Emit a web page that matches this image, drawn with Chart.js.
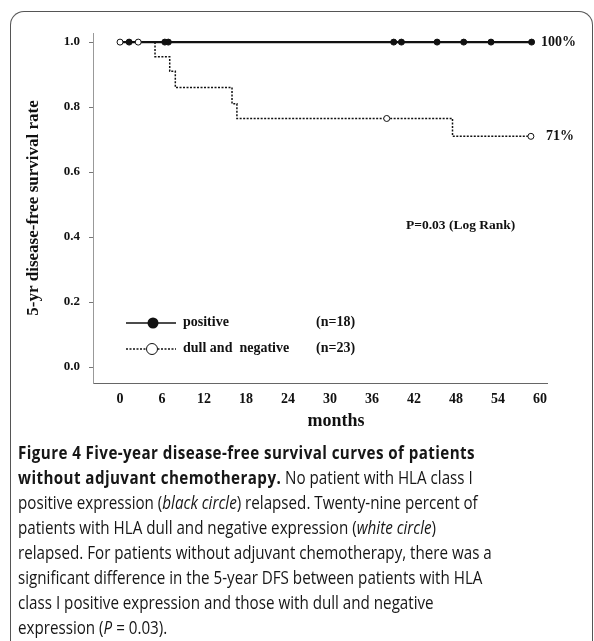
<!DOCTYPE html>
<html>
<head>
<meta charset="utf-8">
<script src="https://cdn.jsdelivr.net/npm/chart.js@4.4.0/dist/chart.umd.min.js"></script>
<style>
  body { margin: 0; width: 594px; height: 641px; background: #fff; position: relative; overflow: hidden; }
  #frame { position: absolute; left: 10px; top: 11px; width: 581px; height: 660px; border: 1.5px solid #555; border-bottom: none; border-radius: 14px 14px 0 0; }
  #chart { position: absolute; left: 0; top: 0; }
  #caption { position: absolute; left: 18px; top: 439px; font-family: "Open Sans", sans-serif; font-size: 18.5px; line-height: 25px; color: #161616; white-space: nowrap; transform: scaleX(0.82); transform-origin: 0 0; }
  #caption b { letter-spacing: 0.5px; }
</style>
</head>
<body>
<div id="frame"></div>
<canvas id="chart" width="594" height="440"></canvas>
<div id="caption">
  <b>Figure 4 Five-year disease-free survival curves of patients<br>without adjuvant chemotherapy.</b> No patient with HLA class I<br>positive expression (<i>black circle</i>) relapsed. Twenty-nine percent of<br>patients with HLA dull and negative expression (<i>white circle</i>)<br>relapsed. For patients without adjuvant chemotherapy, there was a<br>significant difference in the 5-year DFS between patients with HLA<br>class I positive expression and those with dull and negative<br>expression (<i>P</i> = 0.03).
</div>
<script>
// months on x, survival rate on y
const xTicks = [0, 6, 12, 18, 24, 30, 36, 42, 48, 54, 60];
const yTicks = [0, 0.2, 0.4, 0.6, 0.8, 1.0];

// HLA class I positive (n=18): no events
const posTimes = [0, 58.8];
const posSurv = [1.0, 1.0];
const posCensorTimes = [1.3, 6.4, 6.9, 39.1, 40.2, 45.3, 49.1, 53.0, 58.8];
const posCensorSurv = [1.0, 1.0, 1.0, 1.0, 1.0, 1.0, 1.0, 1.0, 1.0];

// HLA dull and negative (n=23)
const dullTimes = [0, 5.0, 7.1, 7.9, 16.0, 16.7, 47.5, 58.7];
const dullSurv = [1.0, 0.955, 0.91, 0.86, 0.81, 0.765, 0.71, 0.71];
const dullCensorTimes = [0, 2.6, 38.1, 58.7];
const dullCensorSurv = [1.0, 1.0, 0.765, 0.71];

const serif = 'Liberation Serif';
const ink = '#111';

const toXY = (xs, ys) => xs.map((x, i) => ({ x: x, y: ys[i] }));

// legend, end labels, p-value and x title
const annotations = {
  id: 'annotations',
  afterDraw(chart) {
    const ctx = chart.ctx;
    const y = chart.scales.y;
    ctx.save();
    ctx.fillStyle = ink;
    ctx.textBaseline = 'middle';
    ctx.textAlign = 'left';

    ctx.font = 'bold 14px ' + serif;
    ctx.fillText('100%', 541, y.getPixelForValue(1.0));
    ctx.fillText('71%', 546, y.getPixelForValue(0.71));

    ctx.font = 'bold 13.5px ' + serif;
    ctx.fillText('P=0.03 (Log Rank)', 406, 226);

    ctx.font = 'bold 18px ' + serif;
    ctx.textAlign = 'center';
    ctx.fillText('months', 336, 421);

    // legend rows
    ctx.textAlign = 'left';
    ctx.font = 'bold 14px ' + serif;
    ctx.strokeStyle = ink;

    ctx.lineWidth = 1.6;
    ctx.beginPath();
    ctx.moveTo(126, 323); ctx.lineTo(176, 323);
    ctx.stroke();
    ctx.beginPath();
    ctx.arc(153, 323, 5.5, 0, Math.PI * 2);
    ctx.fill();
    ctx.fillText('positive', 183, 322);
    ctx.fillText('(n=18)', 316, 322);

    ctx.lineWidth = 1.3;
    ctx.setLineDash([2, 1.5]);
    ctx.beginPath();
    ctx.moveTo(126, 349); ctx.lineTo(176, 349);
    ctx.stroke();
    ctx.setLineDash([]);
    ctx.fillStyle = '#fff';
    ctx.beginPath();
    ctx.arc(152, 349, 5.5, 0, Math.PI * 2);
    ctx.fill();
    ctx.lineWidth = 1;
    ctx.stroke();
    ctx.fillStyle = ink;
    ctx.fillText('dull and  negative', 183, 348);
    ctx.fillText('(n=23)', 316, 348);
    ctx.restore();
  }
};

new Chart(document.getElementById('chart'), {
  type: 'scatter',
  data: {
    datasets: [
      {
        label: 'positive',
        data: toXY(posTimes, posSurv),
        showLine: true,
        stepped: true,
        borderColor: ink,
        borderWidth: 2.2,
        pointRadius: 0,
        order: 1
      },
      {
        label: 'dull and negative',
        data: toXY(dullTimes, dullSurv),
        showLine: true,
        stepped: true,
        borderColor: ink,
        borderWidth: 1.5,
        borderDash: [2, 1.5],
        pointRadius: 0,
        order: 2
      },
      {
        label: 'positive censored',
        data: toXY(posCensorTimes, posCensorSurv),
        showLine: false,
        pointRadius: 3,
        backgroundColor: ink,
        borderColor: ink,
        order: 0
      },
      {
        label: 'dull censored',
        data: toXY(dullCensorTimes, dullCensorSurv),
        showLine: false,
        pointRadius: 3,
        backgroundColor: '#fff',
        borderColor: ink,
        borderWidth: 1,
        order: 0
      }
    ]
  },
  options: {
    responsive: false,
    animation: false,
    layout: { padding: { left: 0, top: 33, right: 47, bottom: 0 } },
    plugins: {
      legend: { display: false },
      tooltip: { enabled: false }
    },
    scales: {
      x: {
        type: 'linear',
        min: -3.86,
        max: 61,
        afterFit: (s) => { s.height = 57; },
        afterBuildTicks: (s) => { s.ticks = xTicks.map(v => ({ value: v })); },
        grid: { drawOnChartArea: false, drawTicks: false },
        border: { display: true, color: '#666', dash: [2, 1], width: 1 },
        ticks: { color: ink, padding: 8, font: { family: serif, weight: 'bold', size: 14 } }
      },
      y: {
        min: -0.049,
        max: 1.028,
        afterFit: (s) => { s.width = 93; },
        afterBuildTicks: (s) => { s.ticks = yTicks.map(v => ({ value: v })); },
        grid: { drawOnChartArea: false, drawTicks: true, tickLength: 4, color: '#777' },
        border: { display: true, color: '#999', dash: [1, 2], width: 1 },
        ticks: {
          color: ink,
          padding: 9,
          font: { family: serif, weight: 'bold', size: 13 },
          callback: (v) => v.toFixed(1)
        },
        title: {
          display: true,
          text: '5-yr disease-free survival rate',
          color: ink,
          padding: { top: 23 },
          font: { family: serif, weight: 'bold', size: 17 }
        }
      }
    }
  },
  plugins: [annotations]
});
</script>
</body>
</html>
